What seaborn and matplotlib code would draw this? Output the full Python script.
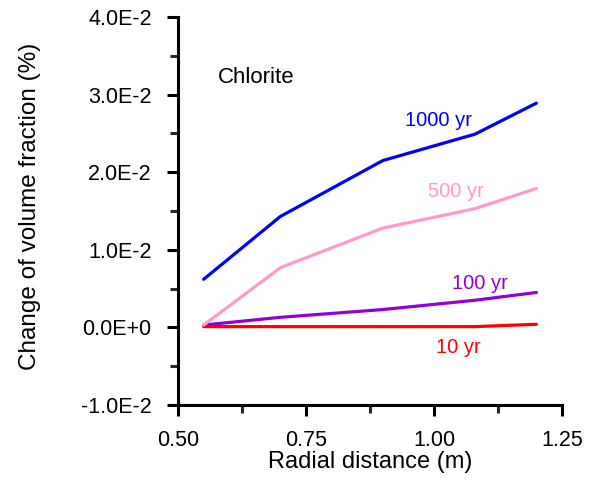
import matplotlib
matplotlib.use("Agg")
import matplotlib.pyplot as plt
import seaborn as sns
import pandas as pd
from matplotlib.ticker import FixedLocator, MultipleLocator

# Radial positions (m)
radius = [0.55, 0.70, 0.90, 1.08, 1.20]

# Change of chlorite volume fraction (%) at each time
vf_10yr = [0.0001, 0.0001, 0.0001, 0.0001, 0.0004]
vf_100yr = [0.0003, 0.0013, 0.0023, 0.0035, 0.0045]
vf_500yr = [0.0003, 0.0077, 0.0128, 0.0153, 0.0179]
vf_1000yr = [0.0062, 0.0143, 0.0215, 0.0249, 0.0289]

series_names = ["10 yr", "100 yr", "500 yr", "1000 yr"]
series_values = [vf_10yr, vf_100yr, vf_500yr, vf_1000yr]
series_colors = ["#ff0000", "#9400d3", "#ff99cc", "#0000ff"]

y_ticks = [-0.01, 0.0, 0.01, 0.02, 0.03, 0.04]
y_tick_labels = ["-1.0E-2", "0.0E+0", "1.0E-2", "2.0E-2", "3.0E-2", "4.0E-2"]
x_ticks = [0.50, 0.75, 1.00, 1.25]
x_tick_labels = ["0.50", "0.75", "1.00", "1.25"]

rows = []
for name, vals in zip(series_names, series_values):
    for r, v in zip(radius, vals):
        rows.append({"radius": r, "value": v, "time": name})
df = pd.DataFrame(rows)

sns.set_style("ticks")
plt.rcParams["font.family"] = ["Liberation Sans", "DejaVu Sans"]
plt.rcParams["text.color"] = "black"
plt.rcParams["axes.labelcolor"] = "black"

fig = plt.figure(figsize=(5.98, 4.83), dpi=100)
ax = fig.add_axes([0.2977, 0.1615, 0.6421, 0.8033])

sns.lineplot(data=df, x="radius", y="value", hue="time",
             hue_order=series_names, palette=series_colors,
             linewidth=2.3, legend=False, ax=ax)

ax.set_xlim(0.5, 1.25)
ax.set_ylim(-0.01, 0.04)
ax.xaxis.set_major_locator(FixedLocator(x_ticks))
ax.set_xticklabels(x_tick_labels)
ax.yaxis.set_major_locator(FixedLocator(y_ticks))
ax.set_yticklabels(y_tick_labels)
ax.xaxis.set_minor_locator(MultipleLocator(0.125))
ax.yaxis.set_minor_locator(MultipleLocator(0.005))

for side in ["top", "right"]:
    ax.spines[side].set_visible(False)
for side in ["left", "bottom"]:
    ax.spines[side].set_linewidth(2.2)
    ax.spines[side].set_color("black")

ax.tick_params(which="major", direction="out", length=8, width=2.2,
               colors="black", pad=11)
ax.tick_params(which="minor", direction="out", length=5.5, width=2.2)
ax.tick_params(axis="y", which="major", labelsize=15.5)
ax.tick_params(axis="x", which="major", labelsize=15.5, pad=10)

ax.set_xlabel("Radial distance (m)", fontsize=17)
ax.set_ylabel("Change of volume fraction (%)", fontsize=17.5)
ax.xaxis.set_label_coords(0.5, -0.118)
ax.yaxis.set_label_coords(-0.357, 0.513)

label_pos = {"1000 yr": (1.008, 0.0260), "500 yr": (1.043, 0.01675),
             "100 yr": (1.09, 0.0049), "10 yr": (1.047, -0.00335)}
for name, color in zip(series_names, series_colors):
    x, y = label_pos[name]
    ax.text(x, y, name, color=color, fontsize=14.5, ha="center", va="baseline")

ax.text(0.652, 0.03144, "Chlorite", fontsize=16, ha="center", va="baseline",
        color="black")

fig.savefig("out.png", dpi=100)
